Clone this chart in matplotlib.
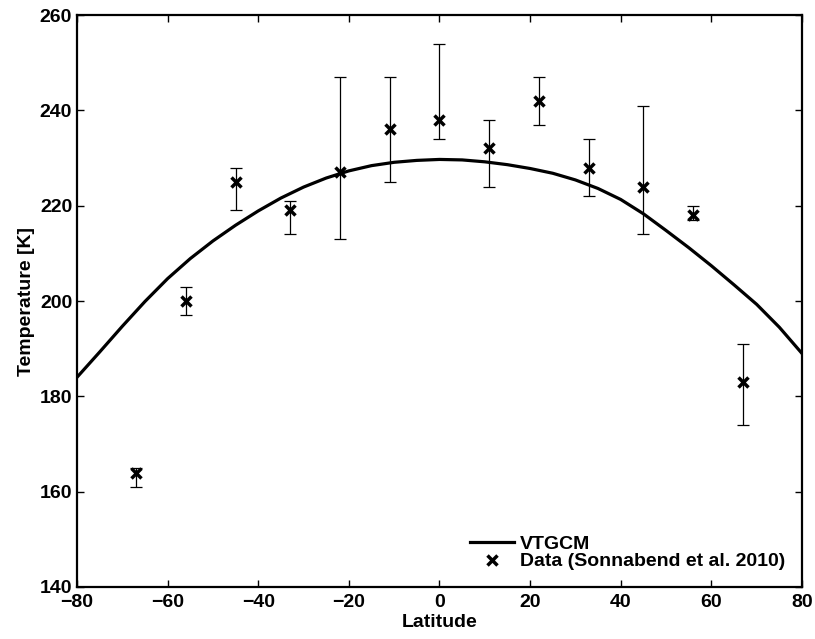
import matplotlib
matplotlib.use("Agg")
import matplotlib.pyplot as plt

plt.rcParams['font.family'] = ['Liberation Sans', 'DejaVu Sans']
plt.rcParams['font.weight'] = 'bold'

# VTGCM model curve
lat_model = [-80, -75, -70, -65, -60, -55, -50, -45, -40, -35, -30, -25, -20, -15, -10, -5,
             0, 5, 10, 15, 20, 25, 30, 35, 40, 45, 50, 55, 60, 65, 70, 75, 80]
temp_model = [184.0, 189.3, 194.7, 199.9, 204.7, 208.9, 212.6, 215.9, 218.9, 221.6, 223.9,
              225.8, 227.3, 228.4, 229.1, 229.5, 229.7, 229.6, 229.2, 228.6, 227.8, 226.8,
              225.4, 223.6, 221.3, 218.3, 214.8, 211.2, 207.4, 203.4, 199.3, 194.5, 189.0]

# Sonnabend et al. 2010 data
lat_obs = [-67, -56, -45, -33, -22, -11, 0, 11, 22, 33, 45, 56, 67]
temp_obs = [164, 200, 225, 219, 227, 236, 238, 232, 242, 228, 224, 218, 183]
err_low = [3, 3, 6, 5, 14, 11, 4, 8, 5, 6, 10, 1, 9]
err_high = [1, 3, 3, 2, 20, 11, 16, 6, 5, 6, 17, 2, 8]

fig = plt.figure(figsize=(8.15, 6.39), dpi=100)
ax = fig.add_axes([0.0945, 0.0814, 0.8895, 0.8951])

line, = ax.plot(lat_model, temp_model, color='black', linewidth=2.3)
ax.errorbar(lat_obs, temp_obs, yerr=[err_low, err_high], fmt='none',
            ecolor='black', elinewidth=0.9, capsize=4.3, capthick=0.9)
pts, = ax.plot(lat_obs, temp_obs, 'x', color='black', markersize=6.5, markeredgewidth=2.5)

ax.set_xlim(-80, 80)
ax.set_ylim(140, 260)
ax.set_xticks(range(-80, 81, 20))
ax.set_yticks(range(140, 261, 20))
ax.tick_params(direction='in', length=5, width=1, top=True, right=True, labelsize=14)
ax.tick_params(axis='x', pad=5)
for s in ax.spines.values():
    s.set_linewidth(1.6)

ax.set_xlabel('Latitude', fontsize=14, fontweight='bold', labelpad=2)
ax.set_ylabel('Temperature [K]', fontsize=14, fontweight='bold', labelpad=3)

ax.legend([line, pts], ['VTGCM', 'Data (Sonnabend et al. 2010)'], loc='lower right',
          frameon=False, fontsize=14, handlelength=2.3, handletextpad=0.3,
          borderaxespad=0.45, labelspacing=0.0)

fig.savefig('out.png', dpi=100)
